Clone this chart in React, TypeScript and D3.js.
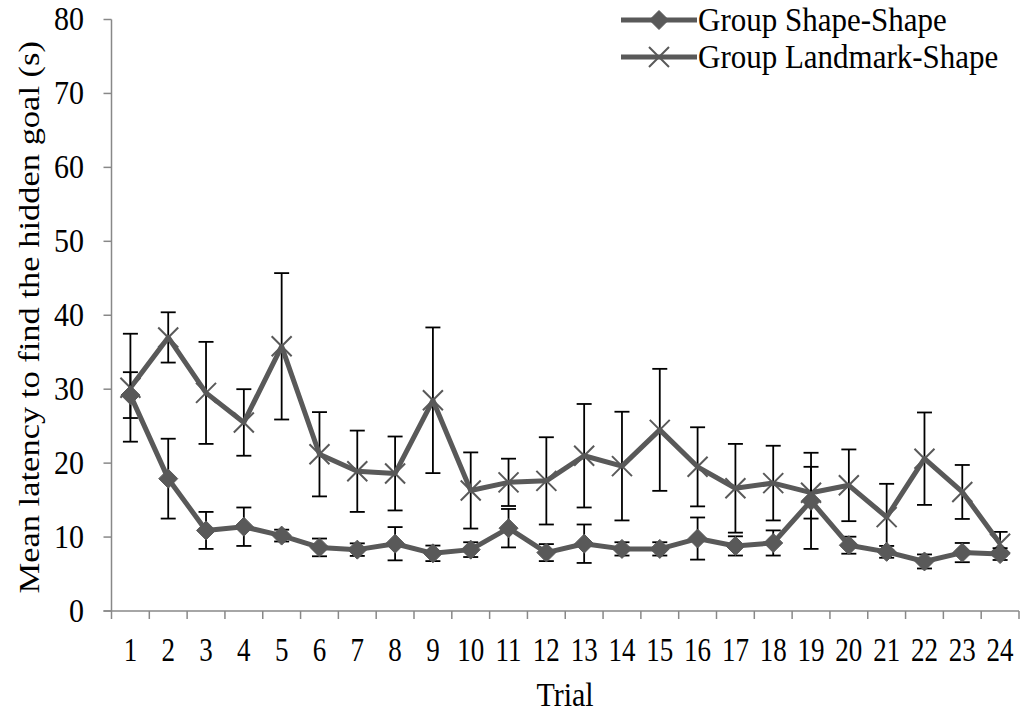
import React from "react";
import * as d3 from "d3";

const trials = d3.range(1, 25).map(String);
const shapeMean = [29.2, 17.9, 10.9, 11.4, 10.2, 8.6, 8.3, 9.1, 7.8, 8.3, 11.2, 7.9, 9.1, 8.4, 8.4, 9.8, 8.8, 9.2, 14.9, 8.9, 8.0, 6.7, 7.9, 7.7];
const shapeErr = [3.1, 5.4, 2.5, 2.6, 0.8, 1.2, 0.85, 2.25, 1.05, 1.0, 2.6, 1.15, 2.6, 0.9, 0.9, 2.85, 1.3, 1.7, 6.5, 1.15, 0.8, 0.95, 1.3, 0.8];
const landMean = [30.2, 37.0, 29.5, 25.5, 35.8, 21.2, 18.9, 18.6, 28.5, 16.3, 17.4, 17.6, 21.0, 19.6, 24.5, 19.5, 16.6, 17.3, 16.0, 17.0, 12.7, 20.6, 16.1, 9.1];
const landErr = [7.3, 3.4, 6.9, 4.5, 9.9, 5.7, 5.5, 5.0, 9.85, 5.15, 3.2, 5.9, 7.0, 7.35, 8.25, 5.35, 6.0, 5.05, 3.5, 4.85, 4.5, 6.25, 3.65, 1.6];
const yTicks = [0, 10, 20, 30, 40, 50, 60, 70, 80];
const seriesNames = ["Group Shape-Shape", "Group Landmark-Shape"];

const W = 1027;
const H = 714;
const left = 111.5;
const right = 1019;
const top = 19.5;
const bottom = 611;
const LINE = "#595959";
const AXIS = "#888888";
const FONT = "'Liberation Serif', 'Times New Roman', serif";

const x = d3.scaleBand<string>().domain(trials).range([left, right]);
const y = d3.scaleLinear().domain([0, 80]).range([bottom, top]);
const cx = (t: string) => (x(t) as number) + x.bandwidth() / 2;

const diamond = (px: number, py: number, r = 9.5) =>
  `M${px},${py - r}L${px + r},${py}L${px},${py + r}L${px - r},${py}Z`;
const cross = (px: number, py: number, r = 10) =>
  `M${px - r},${py - r}L${px + r},${py + r}M${px - r},${py + r}L${px + r},${py - r}`;

function ErrorBars({ mean, err }: { mean: number[]; err: number[] }) {
  const cap = 7.5;
  return (
    <g stroke="#000" strokeWidth={1.8} fill="none">
      {trials.map((t, i) => {
        const px = cx(t);
        const hi = y(mean[i] + err[i]);
        const lo = y(mean[i] - err[i]);
        return (
          <g key={t}>
            <line x1={px} x2={px} y1={hi} y2={lo} />
            <line x1={px - cap} x2={px + cap} y1={hi} y2={hi} />
            <line x1={px - cap} x2={px + cap} y1={lo} y2={lo} />
          </g>
        );
      })}
    </g>
  );
}

export default function App() {
  const line = d3
    .line<number>()
    .x((_, i) => cx(trials[i]))
    .y((v) => y(v));

  return (
    <svg width={W} height={H} style={{ display: "block", position: "absolute", left: 0, top: 0 }}>
      <rect width={W} height={H} fill="#fff" />
      {/* axes */}
      <g stroke={AXIS} strokeWidth={1.5}>
        <line x1={left} x2={left} y1={top} y2={bottom} />
        <line x1={left - 8} x2={right} y1={bottom} y2={bottom} />
        {yTicks.map((v) => (
          <line key={v} x1={left - 8} x2={left} y1={y(v)} y2={y(v)} />
        ))}
        {trials.map((t) => (
          <line key={t} x1={x(t) as number} x2={x(t) as number} y1={bottom} y2={bottom + 8} />
        ))}
        <line x1={right} x2={right} y1={bottom} y2={bottom + 8} />
      </g>
      <g fontFamily={FONT} fill="#000">
        {yTicks.map((v) => (
          <text
            key={v}
            transform={`translate(84,${y(v) + 10.5}) scale(1,1.1)`}
            fontSize={30}
            textAnchor="end"
          >
            {v}
          </text>
        ))}
        {trials.map((t) => (
          <text
            key={t}
            transform={`translate(${cx(t)},661) scale(1,1.25)`}
            fontSize={27}
            textAnchor="middle"
          >
            {t}
          </text>
        ))}
        <text transform="translate(565,706) scale(1,1.1)" fontSize={30} textAnchor="middle">
          Trial
        </text>
        <text
          transform={`translate(39,${(top + bottom) / 2 + 2}) rotate(-90) scale(1.15,1)`}
          fontSize={30}
          textAnchor="middle"
        >
          Mean latency to find the hidden goal (s)
        </text>
      </g>

      {/* Landmark-Shape series */}
      <ErrorBars mean={landMean} err={landErr} />
      <path d={line(landMean) as string} fill="none" stroke={LINE} strokeWidth={5} strokeLinejoin="round" />
      {landMean.map((v, i) => (
        <path key={i} d={cross(cx(trials[i]), y(v))} stroke={LINE} strokeWidth={2} fill="none" />
      ))}

      {/* Shape-Shape series */}
      <ErrorBars mean={shapeMean} err={shapeErr} />
      <path d={line(shapeMean) as string} fill="none" stroke={LINE} strokeWidth={5} strokeLinejoin="round" />
      {shapeMean.map((v, i) => (
        <path key={i} d={diamond(cx(trials[i]), y(v))} fill={LINE} stroke={LINE} strokeWidth={1} />
      ))}

      {/* legend */}
      <g>
        <line x1={621} x2={697} y1={20} y2={20} stroke={LINE} strokeWidth={5} />
        <path d={diamond(659, 20)} fill={LINE} stroke={LINE} />
        <line x1={621} x2={697} y1={57} y2={57} stroke={LINE} strokeWidth={5} />
        <path d={cross(659, 57)} stroke={LINE} strokeWidth={2} fill="none" />
        <g fontFamily={FONT} fontSize={31} fill="#000">
          <text transform="translate(698,30.5) scale(1,1.1)">{seriesNames[0]}</text>
          <text transform="translate(698,67.5) scale(1,1.1)">{seriesNames[1]}</text>
        </g>
      </g>
    </svg>
  );
}
